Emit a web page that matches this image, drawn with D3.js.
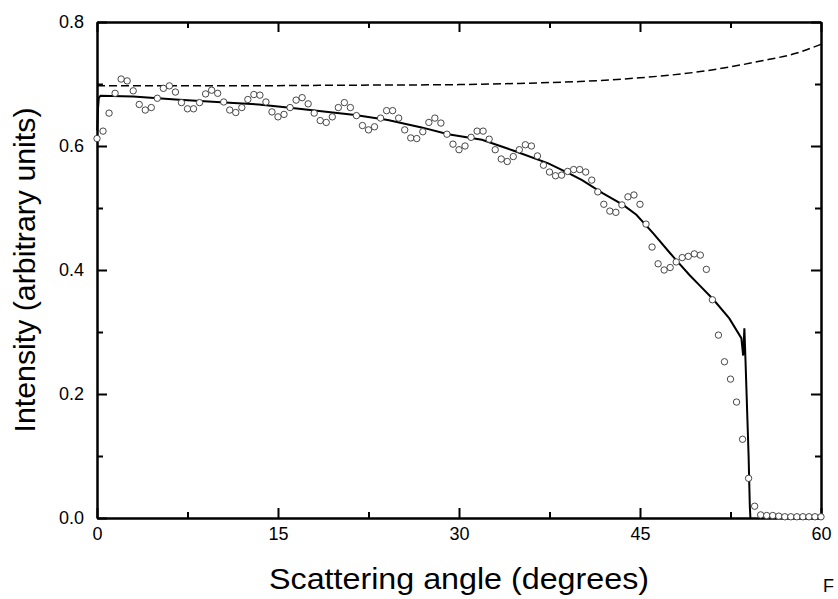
<!DOCTYPE html>
<html>
<head>
<meta charset="utf-8">
<script src="https://cdn.jsdelivr.net/npm/d3@7"></script>
<style>
  body { margin: 0; background: #fff; }
  text { font-family: "Liberation Sans", Arial, sans-serif; fill: #000; }
</style>
</head>
<body>
<script>
// measured points: angle in degrees, intensity in arbitrary units
var pointAngles = d3.range(0, 60.5, 0.5);
var pointValues = [
  0.612, 0.624, 0.653, 0.685, 0.708, 0.705, 0.689, 0.667, 0.658, 0.662,
  0.677, 0.693, 0.697, 0.687, 0.670, 0.660, 0.660, 0.670, 0.684, 0.690,
  0.685, 0.671, 0.658, 0.654, 0.662, 0.675, 0.683, 0.682, 0.671, 0.655,
  0.647, 0.651, 0.662, 0.674, 0.678, 0.668, 0.653, 0.641, 0.638, 0.647,
  0.662, 0.670, 0.662, 0.649, 0.633, 0.626, 0.631, 0.645, 0.657, 0.657,
  0.645, 0.626, 0.613, 0.612, 0.623, 0.638, 0.645, 0.637, 0.619, 0.603,
  0.594, 0.600, 0.614, 0.624, 0.624, 0.611, 0.594, 0.579, 0.575, 0.583,
  0.594, 0.602, 0.600, 0.584, 0.569, 0.558, 0.552, 0.553, 0.559, 0.562,
  0.562, 0.558, 0.545, 0.526, 0.506, 0.495, 0.493, 0.505, 0.518, 0.521,
  0.506, 0.474, 0.437, 0.410, 0.400, 0.404, 0.413, 0.420, 0.422, 0.426,
  0.424, 0.401, 0.352, 0.295, 0.252, 0.224, 0.187, 0.127, 0.064, 0.019,
  0.005, 0.004, 0.004, 0.003, 0.002, 0.002, 0.002, 0.002, 0.002, 0.002,
  0.002
];

// solid model curve
var fitAngles = [0.02, 0.08, 0.15, 0.3, 3, 6.5, 10.6, 13.4, 15.8, 18.6, 21.4, 24.1,
  26.9, 29.1, 31.9, 34.6, 37.4, 39.2, 40.2, 41.9, 43.6, 44.7, 46.1, 47.5, 48.0,
  49.1, 49.9, 51.1, 52.4, 53.4, 53.55, 53.65, 53.75, 53.9, 54.0, 54.1, 54.15];
var fitValues = [0.625, 0.66, 0.678, 0.681, 0.680, 0.675, 0.670, 0.667, 0.662, 0.656, 0.650, 0.642,
  0.630, 0.619, 0.610, 0.592, 0.572, 0.555, 0.545, 0.524, 0.505, 0.489, 0.459, 0.427, 0.416,
  0.392, 0.376, 0.352, 0.322, 0.290, 0.262, 0.306, 0.25, 0.16, 0.10, 0.02, 0];

// dashed curve
var dashAngles = [0, 10, 20, 30, 35, 40, 45, 50, 55, 58, 60];
var dashValues = [0.697, 0.697, 0.698, 0.699, 0.701, 0.704, 0.710, 0.720, 0.737, 0.750, 0.764];

var xMajor = [0, 15, 30, 45, 60];
var xMinor = [7.5, 22.5, 37.5, 52.5];
var yMajor = [0, 0.2, 0.4, 0.6, 0.8];
var yMinor = [0.1, 0.3, 0.5, 0.7];

var W = 838, H = 599;
var m = {left: 97, right: 17, top: 22, bottom: 81};

var svg = d3.select("body").append("svg")
  .attr("width", W)
  .attr("height", H);

var x = d3.scaleLinear().domain([0, 60]).range([m.left, W - m.right]);
var y = d3.scaleLinear().domain([0, 0.8]).range([H - m.bottom, m.top]);

function drawAxis (axis, tx, ty, labels) {
  var g = svg.append("g")
    .attr("transform", "translate(" + tx + "," + ty + ")")
    .call(axis);
  g.selectAll("line").attr("stroke", "#000").attr("stroke-width", 2);
  g.select(".domain").attr("stroke", "#000").attr("stroke-width", 2);
  g.selectAll("text").style("font-size", "18px").style("fill", "#000");
  if (!labels) g.selectAll("text").remove();
  return g;
}

var x0 = H - m.bottom, y0 = m.left;
// major + minor ticks, all pointing inward
drawAxis(d3.axisBottom(x).tickValues(xMajor).tickSize(-10).tickSizeOuter(0).tickPadding(9).tickFormat(d3.format("d")), 0, x0, true);
drawAxis(d3.axisBottom(x).tickValues(xMinor).tickSize(-6).tickSizeOuter(0), 0, x0, false);
drawAxis(d3.axisTop(x).tickValues(xMajor).tickSize(-10).tickSizeOuter(0), 0, m.top, false);
drawAxis(d3.axisTop(x).tickValues(xMinor).tickSize(-6).tickSizeOuter(0), 0, m.top, false);
drawAxis(d3.axisLeft(y).tickValues(yMajor).tickSize(-10).tickSizeOuter(0).tickPadding(13).tickFormat(d3.format(".1f")), y0, 0, true);
drawAxis(d3.axisLeft(y).tickValues(yMinor).tickSize(-6).tickSizeOuter(0), y0, 0, false);
drawAxis(d3.axisRight(y).tickValues(yMajor).tickSize(-10).tickSizeOuter(0), W - m.right, 0, false);
drawAxis(d3.axisRight(y).tickValues(yMinor).tickSize(-6).tickSizeOuter(0), W - m.right, 0, false);

var line = d3.line()
  .x(d => x(d[0]))
  .y(d => y(d[1]));

svg.append("path")
  .datum(d3.zip(dashAngles, dashValues))
  .attr("d", line.curve(d3.curveMonotoneX))
  .attr("fill", "none")
  .attr("stroke", "#000")
  .attr("stroke-width", 1.5)
  .attr("stroke-dasharray", "8,4");

svg.append("path")
  .datum(d3.zip(fitAngles, fitValues))
  .attr("d", line.curve(d3.curveLinear))
  .attr("fill", "none")
  .attr("stroke", "#000")
  .attr("stroke-width", 2);

svg.append("g").selectAll("circle")
  .data(d3.zip(pointAngles, pointValues))
  .enter().append("circle")
    .attr("cx", d => x(d[0]))
    .attr("cy", d => y(d[1]))
    .attr("r", 3.2)
    .attr("fill", "#fff")
    .attr("stroke", "#333")
    .attr("stroke-width", 0.9);

// titles are a bit wider in the original, so stretch them to its width
svg.append("text")
  .attr("x", (m.left + W - m.right) / 2)
  .attr("y", 589)
  .attr("text-anchor", "middle")
  .attr("textLength", 380)
  .attr("lengthAdjust", "spacingAndGlyphs")
  .style("font-size", "29px")
  .text("Scattering angle (degrees)");

svg.append("text")
  .attr("transform", "translate(35," + ((m.top + H - m.bottom) / 2) + ") rotate(-90)")
  .attr("text-anchor", "middle")
  .attr("textLength", 325)
  .attr("lengthAdjust", "spacingAndGlyphs")
  .style("font-size", "29px")
  .text("Intensity (arbitrary units)");

svg.append("text")
  .attr("x", 823)
  .attr("y", 592)
  .style("font-size", "18px")
  .text("F");
</script>
</body>
</html>
